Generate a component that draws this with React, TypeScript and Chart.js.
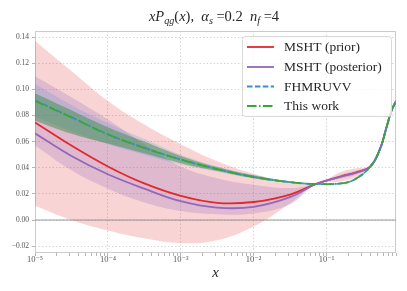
import React, { useEffect, useRef } from 'react';
import { Chart, registerables } from 'chart.js';
Chart.register(...registerables);

// x grid (log-spaced sample points)
const xValues = [1e-5, 3.16e-5, 1e-4, 3.16e-4, 1e-3, 3.16e-3, 1e-2, 3.16e-2, 0.072, 0.16, 0.25, 0.4, 0.54, 0.66, 0.78, 0.9];

// MSHT (prior)
const priorCentral = [0.0747, 0.057, 0.041, 0.028, 0.0185, 0.0131, 0.0138, 0.0195, 0.0276, 0.0335, 0.0363, 0.041, 0.054, 0.07, 0.0836, 0.091];
const priorUpper = [0.137, 0.114, 0.091, 0.073, 0.058, 0.045, 0.0355, 0.029, 0.0279, 0.037, 0.0395, 0.0413, 0.0543, 0.0703, 0.0839, 0.0913];
const priorLower = [0.011, 0.0, -0.008, -0.014, -0.0177, -0.0155, -0.005, 0.0126, 0.0273, 0.0295, 0.0325, 0.0407, 0.0537, 0.0697, 0.0833, 0.0907];

// MSHT (posterior)
const posteriorCentral = [0.0663, 0.049, 0.035, 0.024, 0.0144, 0.0095, 0.0101, 0.0175, 0.0276, 0.0332, 0.036, 0.041, 0.054, 0.07, 0.0836, 0.091];
const posteriorUpper = [0.11, 0.094, 0.077, 0.058, 0.041, 0.032, 0.027, 0.0245, 0.0278, 0.035, 0.0378, 0.0412, 0.0542, 0.0702, 0.0838, 0.0912];
const posteriorLower = [0.057, 0.038, 0.024, 0.0135, 0.007, 0.0045, 0.005, 0.012, 0.0274, 0.0318, 0.0345, 0.0408, 0.0538, 0.0698, 0.0834, 0.0908];

// FHMRUVV
const fhmruvvCentral = [0.0915, 0.0787, 0.0656, 0.0553, 0.0463, 0.039, 0.033, 0.029, 0.0276, 0.0281, 0.0314, 0.041, 0.054, 0.07, 0.0836, 0.091];
const fhmruvvUpper = [0.104, 0.088, 0.074, 0.062, 0.05, 0.041, 0.0345, 0.0298, 0.0281, 0.0285, 0.0318, 0.0412, 0.0542, 0.0702, 0.0838, 0.0912];
const fhmruvvLower = [0.079, 0.068, 0.058, 0.05, 0.0425, 0.037, 0.0318, 0.0283, 0.0271, 0.0277, 0.031, 0.0408, 0.0538, 0.0698, 0.0834, 0.0908];

// This work
const thisWorkCentral = [0.0912, 0.0785, 0.0655, 0.0552, 0.0462, 0.039, 0.033, 0.029, 0.0276, 0.0281, 0.0314, 0.041, 0.054, 0.07, 0.0836, 0.091];
const thisWorkUpper = [0.097, 0.084, 0.071, 0.06, 0.049, 0.0405, 0.0342, 0.0296, 0.028, 0.0284, 0.0317, 0.0411, 0.0541, 0.0701, 0.0837, 0.0911];
const thisWorkLower = [0.076, 0.066, 0.0585, 0.051, 0.0435, 0.0375, 0.032, 0.0285, 0.0272, 0.0278, 0.0311, 0.0409, 0.0539, 0.0699, 0.0835, 0.0909];

// axes
const xMin = 1e-5;
const xMax = 0.9;
const yMin = -0.0252;
const yMax = 0.1446;
const yTickValues = [-0.02, 0, 0.02, 0.04, 0.06, 0.08, 0.1, 0.12, 0.14];
const xDecadeExponents = [-5, -4, -3, -2, -1];

const legendLabels = ['MSHT (prior)', 'MSHT (posterior)', 'FHMRUVV', 'This work'];
const xAxisLabel = 'x';
const titleSegments = [
  { t: 'x', i: true },
  { t: 'P', i: true },
  { t: 'qg', i: true, sub: true },
  { t: '(', i: false },
  { t: 'x', i: true },
  { t: '),  ', i: false },
  { t: 'α', i: true },
  { t: 's', i: true, sub: true },
  { t: ' =0.2  ', i: false },
  { t: 'n', i: true },
  { t: 'f', i: true, sub: true },
  { t: ' =4', i: false },
];

const RED = '#e2282c';
const PURPLE = '#9467bd';
const BLUE = '#3a8dd3';
const GREEN = '#3aa53a';
const SERIF = "'Liberation Serif', 'DejaVu Serif', serif";

const supMap: Record<string, string> = { '-': '⁻', '0': '⁰', '1': '¹', '2': '²', '3': '³', '4': '⁴', '5': '⁵', '6': '⁶', '7': '⁷', '8': '⁸', '9': '⁹' };
const sup = (n: number) => String(n).split('').map((c) => supMap[c]).join('');
const isDecade = (v: number) => {
  if (!(v > 0)) return false;
  const l = Math.log10(v);
  return Math.abs(l - Math.round(l)) < 1e-6;
};

const xTickValues: number[] = [];
xDecadeExponents.forEach((e) => {
  for (let m = 1; m <= 9; m++) {
    const v = m * Math.pow(10, e);
    if (v <= xMax + 1e-12) xTickValues.push(v);
  }
});

export default function App() {
  const ref = useRef<HTMLCanvasElement>(null);
  useEffect(() => {
    document.body.style.margin = '0';
    const canvas = ref.current;
    if (!canvas) return;
    const pts = (ys: number[]) => xValues.map((x, i) => ({ x, y: ys[i] }));
    const band = (ys: number[], color: string, target: number | null, order: number) => ({
      data: pts(ys),
      borderWidth: 0,
      borderColor: 'rgba(0,0,0,0)',
      pointRadius: 0,
      backgroundColor: color,
      fill: target === null ? false : { target, above: color, below: color },
      order,
      tension: 0.4,
    });
    const line = (ys: number[], color: string, dash: number[], order: number) => ({
      data: pts(ys),
      borderColor: color,
      borderWidth: 1.8,
      borderDash: dash,
      pointRadius: 0,
      fill: false,
      order,
      tension: 0.4,
    });

    const legendStyles = [
      { color: RED, dash: [] as number[] },
      { color: PURPLE, dash: [] as number[] },
      { color: BLUE, dash: [5.5, 2.4] },
      { color: GREEN, dash: [9.6, 2.4, 1.5, 2.4] },
    ];

    const decor = {
      id: 'decor',
      beforeDatasetsDraw(chart: any) {
        const { ctx, chartArea: a } = chart;
        ctx.save();
        ctx.strokeStyle = '#cccccc';
        ctx.lineWidth = 1;
        ctx.strokeRect(Math.round(a.left) + 0.5, Math.round(a.top) + 0.5, Math.round(a.right - a.left) - 1, Math.round(a.bottom - a.top) - 1);
        ctx.restore();
      },
      afterDraw(chart: any) {
        const { ctx, chartArea: a } = chart;
        ctx.save();
        // title
        const base = 14.5;
        const fontFor = (s: any) => `${s.i ? 'italic ' : ''}${s.sub ? base * 0.7 : base}px ${SERIF}`;
        let w = 0;
        titleSegments.forEach((s) => {
          ctx.font = fontFor(s);
          w += ctx.measureText(s.t).width;
        });
        let x = 214 - w / 2;
        ctx.fillStyle = '#262626';
        ctx.textBaseline = 'alphabetic';
        ctx.textAlign = 'left';
        titleSegments.forEach((s) => {
          ctx.font = fontFor(s);
          ctx.fillText(s.t, x, 21 + (s.sub ? 3 : 0));
          x += ctx.measureText(s.t).width;
        });
        // x axis label
        ctx.font = `italic 15px ${SERIF}`;
        ctx.textAlign = 'center';
        ctx.textBaseline = 'middle';
        ctx.fillText(xAxisLabel, (a.left + a.right) / 2, 273);

        // legend
        const lx = 242, ly = 36, lw = 149, lh = 80;
        ctx.beginPath();
        ctx.roundRect(lx + 0.5, ly + 0.5, lw, lh, 3);
        ctx.fillStyle = 'rgba(255,255,255,0.8)';
        ctx.fill();
        ctx.strokeStyle = '#d9d9d9';
        ctx.lineWidth = 1;
        ctx.stroke();
        const rows = [47, 67, 86.5, 106];
        legendLabels.forEach((lab, i) => {
          const st = legendStyles[i];
          ctx.beginPath();
          ctx.setLineDash(st.dash);
          ctx.strokeStyle = st.color;
          ctx.lineWidth = 1.8;
          ctx.moveTo(247, rows[i]);
          ctx.lineTo(274, rows[i]);
          ctx.stroke();
          ctx.setLineDash([]);
          ctx.font = `13.5px ${SERIF}`;
          ctx.fillStyle = '#262626';
          ctx.textAlign = 'left';
          ctx.textBaseline = 'middle';
          ctx.fillText(lab, 284, rows[i] + 0.5);
        });
        ctx.restore();
      },
    };

    const tickFont = { family: SERIF, size: 7.5 };

    const chart = new Chart(canvas, {
      type: 'line',
      data: {
        datasets: [
          band(priorUpper, 'rgba(226,40,44,0.2)', 1, 20) as any,
          band(priorLower, 'rgba(0,0,0,0)', null, 21),
          {
            data: [{ x: xMin, y: 0 }, { x: xMax, y: 0 }],
            borderColor: 'rgba(140,140,140,0.6)',
            borderWidth: 1.6,
            pointRadius: 0,
            fill: false,
            order: 15,
          },
          band(posteriorUpper, 'rgba(148,103,189,0.25)', 4, 12),
          band(posteriorLower, 'rgba(0,0,0,0)', null, 13),
          band(fhmruvvUpper, 'rgba(58,141,211,0.2)', 6, 10),
          band(fhmruvvLower, 'rgba(0,0,0,0)', null, 11),
          band(thisWorkUpper, 'rgba(44,140,60,0.45)', 8, 8),
          band(thisWorkLower, 'rgba(0,0,0,0)', null, 9),
          line(priorCentral, RED, [], 4),
          line(posteriorCentral, PURPLE, [], 3),
          line(fhmruvvCentral, BLUE, [5.5, 2.4], 2),
          line(thisWorkCentral, GREEN, [9.6, 2.4, 1.5, 2.4], 1),
        ],
      },
      options: {
        animation: false,
        responsive: false,
        devicePixelRatio: 1,
        layout: { padding: { top: 31, right: 11, left: 0, bottom: 0 } },
        plugins: {
          legend: { display: false },
          tooltip: { enabled: false },
          title: { display: false },
        },
        scales: {
          x: {
            type: 'logarithmic',
            min: xMin,
            max: xMax,
            afterBuildTicks: (s: any) => {
              s.ticks = xTickValues.map((v) => ({ value: v, major: isDecade(v) }));
            },
            afterFit: (s: any) => {
              s.height = 38;
            },
            ticks: {
              autoSkip: false,
              maxRotation: 0,
              padding: -1,
              color: '#555555',
              font: { family: SERIF, size: 8.5 },
              callback: (v: any) => (isDecade(Number(v)) ? '10' + sup(Math.round(Math.log10(Number(v)))) : ''),
            },
            grid: {
              color: (c: any) => (c.tick && isDecade(c.tick.value) ? '#d6d6d6' : 'rgba(0,0,0,0)'),
              tickColor: '#b5b5b5',
              tickLength: 3,
              lineWidth: 1,
            },
            border: { display: false, dash: [1.5, 2] },
          },
          y: {
            type: 'linear',
            min: yMin,
            max: yMax,
            afterBuildTicks: (s: any) => {
              s.ticks = yTickValues.map((v) => ({ value: v }));
            },
            afterFit: (s: any) => {
              s.width = 35;
            },
            ticks: {
              padding: 3,
              color: '#555555',
              font: tickFont,
              callback: (v: any) => {
                const n = Number(v);
                const s = Math.abs(n).toFixed(2);
                return n < -1e-9 ? '−' + s : s;
              },
            },
            grid: {
              color: '#d6d6d6',
              tickColor: '#b5b5b5',
              tickLength: 3,
              lineWidth: 1,
            },
            border: { display: false, dash: [1.5, 2] },
          },
        },
      } as any,
      plugins: [decor],
    });
    return () => chart.destroy();
  }, []);
  return <canvas ref={ref} width={407} height={291} style={{ display: 'block' }} />;
}
